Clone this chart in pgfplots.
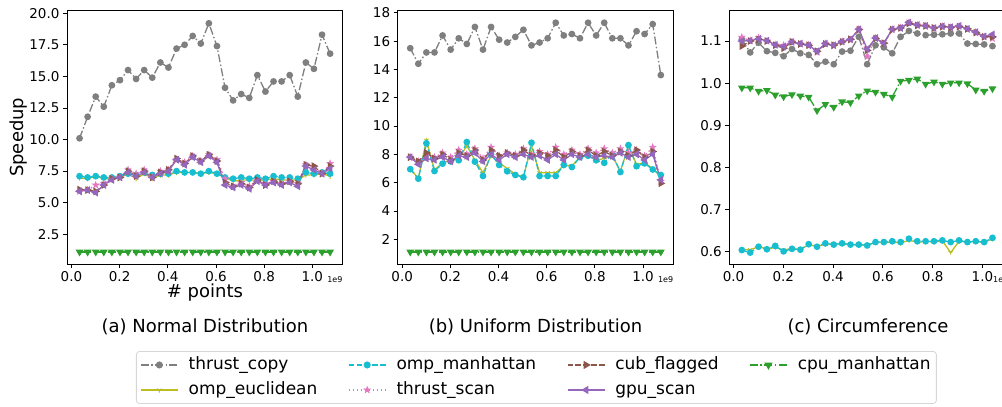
\documentclass[border=0pt]{standalone}
\usepackage{fontspec}
\setmainfont{DejaVu Sans}
\usepackage{pgfplots}
\usepackage{pgfplotstable}
\pgfplotsset{compat=1.18}

\definecolor{tabgray}{HTML}{7F7F7F}
\definecolor{tabolive}{HTML}{BCBD22}
\definecolor{tabcyan}{HTML}{17BECF}
\definecolor{tabpink}{HTML}{E377C2}
\definecolor{tabbrown}{HTML}{8C564B}
\definecolor{tabpurple}{HTML}{9467BD}
\definecolor{tabgreen}{HTML}{2CA02C}
\definecolor{legframe}{HTML}{D6D6D6}

\pgfdeclareplotmark{fstar}{%
  \pgfpathmoveto{\pgfpointpolar{90}{\pgfplotmarksize}}%
  \pgfpathlineto{\pgfpointpolar{126}{0.4\pgfplotmarksize}}%
  \pgfpathlineto{\pgfpointpolar{162}{\pgfplotmarksize}}%
  \pgfpathlineto{\pgfpointpolar{198}{0.4\pgfplotmarksize}}%
  \pgfpathlineto{\pgfpointpolar{234}{\pgfplotmarksize}}%
  \pgfpathlineto{\pgfpointpolar{270}{0.4\pgfplotmarksize}}%
  \pgfpathlineto{\pgfpointpolar{306}{\pgfplotmarksize}}%
  \pgfpathlineto{\pgfpointpolar{342}{0.4\pgfplotmarksize}}%
  \pgfpathlineto{\pgfpointpolar{18}{\pgfplotmarksize}}%
  \pgfpathlineto{\pgfpointpolar{54}{0.4\pgfplotmarksize}}%
  \pgfpathclose
  \pgfusepathqfillstroke}

\pgfplotstableread{
x tc oe om ts cf gs cm
0.033554 10.1 6.95 7.1 5.9 6.05 5.9 1.1
0.067109 11.8 6.9 7.0 6.0 6.0 6.0 1.1
0.100663 13.4 7.1 7.1 6.4 5.9 5.8 1.1
0.134218 12.6 6.9 7.0 6.5 6.4 6.4 1.1
0.167772 14.3 6.9 7.0 6.9 6.9 6.8 1.1
0.201327 14.7 7.0 7.1 7.0 7.0 7.0 1.1
0.234881 15.5 7.3 7.3 7.6 7.5 7.4 1.1
0.268435 14.8 6.9 7.2 7.3 7.1 7.1 1.1
0.301990 15.5 7.3 7.4 7.6 7.5 7.4 1.1
0.335544 14.9 6.9 7.2 7.0 7.0 7.0 1.1
0.369099 16.1 7.2 7.3 7.5 7.4 7.3 1.1
0.402653 15.7 7.2 7.3 7.6 7.6 7.5 1.1
0.436208 17.2 7.4 7.5 8.4 8.5 8.4 1.1
0.469762 17.5 7.4 7.4 8.2 8.1 8.0 1.1
0.503316 18.2 7.4 7.4 8.7 8.7 8.6 1.1
0.536871 17.6 7.3 7.3 8.3 8.3 8.2 1.1
0.570425 19.2 7.4 7.5 8.8 8.8 8.7 1.1
0.603980 17.4 7.3 7.3 8.4 8.3 8.2 1.1
0.637534 14.1 7.0 7.0 6.9 6.6 6.4 1.1
0.671089 13.1 6.7 6.9 6.3 6.3 6.2 1.1
0.704643 13.6 6.8 7.0 6.6 6.5 6.4 1.1
0.738198 13.3 6.8 6.9 6.3 6.2 6.1 1.1
0.771752 15.1 6.8 7.0 6.8 6.8 6.7 1.1
0.805306 13.8 6.8 6.9 6.5 6.4 6.4 1.1
0.838861 14.6 6.9 7.1 6.7 6.7 6.6 1.1
0.872415 14.6 6.8 7.0 6.5 6.5 6.4 1.1
0.905970 15.1 6.8 7.0 6.7 6.7 6.6 1.1
0.939524 13.4 6.8 6.9 6.5 6.5 6.3 1.1
0.973079 16.1 7.2 7.4 8.0 8.0 7.9 1.1
1.006633 15.6 7.2 7.3 7.8 7.9 7.6 1.1
1.040187 18.3 7.3 7.4 7.3 7.3 7.3 1.1
1.073742 16.8 7.1 7.3 8.1 7.9 7.7 1.1
}\tabA

\pgfplotstableread{
x tc oe om ts cf gs cm
0.033554 15.5 7.0 6.95 7.8 7.8 7.8 1.1
0.067109 14.4 6.3 6.28 7.5 7.5 7.3 1.1
0.100663 15.2 9.0 8.78 8.0 8.1 7.7 1.1
0.134218 15.2 6.9 6.82 7.8 7.7 7.6 1.1
0.167772 16.4 7.4 7.34 8.1 8.0 7.8 1.1
0.201327 15.4 7.6 7.5 7.8 7.6 7.5 1.1
0.234881 16.2 7.7 7.58 8.3 8.1 7.9 1.1
0.268435 15.8 8.6 8.87 8.0 7.9 7.8 1.1
0.301990 17.0 7.6 7.48 8.4 8.3 8.1 1.1
0.335544 15.4 6.7 6.47 7.7 7.6 7.5 1.1
0.369099 17.0 7.9 8.0 8.5 8.3 8.0 1.1
0.402653 16.1 7.4 7.25 7.9 7.9 7.6 1.1
0.436208 15.9 7.0 6.8 8.1 8.1 8.0 1.1
0.469762 16.3 6.6 6.54 8.0 7.9 7.8 1.1
0.503316 16.8 6.4 6.38 8.4 8.3 8.0 1.1
0.536871 15.7 8.6 8.82 8.0 7.9 7.8 1.1
0.570425 15.9 6.7 6.47 8.2 8.1 7.9 1.1
0.603980 16.2 6.7 6.47 8.0 7.9 7.6 1.1
0.637534 17.3 6.7 6.47 8.5 8.3 8.0 1.1
0.671089 16.4 7.2 7.25 8.0 7.8 7.6 1.1
0.704643 16.5 7.2 7.1 8.3 8.2 8.0 1.1
0.738198 16.2 7.8 7.8 8.0 7.9 7.8 1.1
0.771752 17.3 7.9 7.9 8.4 8.3 8.0 1.1
0.805306 16.4 7.6 7.58 8.1 7.9 7.8 1.1
0.838861 17.3 7.7 7.4 8.4 8.2 7.9 1.1
0.872415 16.2 7.9 8.0 8.1 7.9 7.8 1.1
0.905970 16.2 6.8 6.75 8.4 8.2 8.1 1.1
0.939524 15.7 8.6 8.65 8.1 7.9 7.8 1.1
0.973079 16.7 7.3 7.16 8.3 8.3 8.0 1.1
1.006633 16.5 7.4 7.36 7.9 7.8 7.6 1.1
1.040187 17.2 7.0 6.93 8.5 8.2 8.0 1.1
1.073742 13.6 6.4 6.54 6.1 5.95 6.2 1.1
}\tabB

\pgfplotstableread{
x tc oe om ts cf gs cm
0.033554 1.104 0.605 0.604 1.109 1.088 1.100 0.989
0.067109 1.073 0.605 0.598 1.101 1.100 1.101 0.989
0.100663 1.096 0.612 0.612 1.108 1.104 1.105 0.981
0.134218 1.076 0.607 0.606 1.100 1.100 1.101 0.983
0.167772 1.072 0.610 0.614 1.091 1.090 1.091 0.972
0.201327 1.064 0.604 0.601 1.090 1.083 1.087 0.968
0.234881 1.081 0.608 0.607 1.098 1.098 1.098 0.973
0.268435 1.071 0.605 0.605 1.093 1.093 1.094 0.970
0.301990 1.067 0.617 0.618 1.091 1.090 1.090 0.967
0.335544 1.045 0.613 0.612 1.073 1.076 1.076 0.935
0.369099 1.051 0.618 0.620 1.094 1.093 1.094 0.950
0.402653 1.045 0.618 0.617 1.089 1.090 1.090 0.943
0.436208 1.075 0.619 0.620 1.099 1.098 1.099 0.956
0.469762 1.077 0.617 0.617 1.103 1.104 1.104 0.954
0.503316 1.110 0.616 0.617 1.128 1.127 1.128 0.970
0.536871 1.045 0.616 0.615 1.063 1.078 1.081 0.982
0.570425 1.090 0.622 0.623 1.107 1.106 1.107 0.979
0.603980 1.085 0.622 0.623 1.094 1.095 1.095 0.974
0.637534 1.071 0.623 0.625 1.128 1.127 1.128 0.967
0.671089 1.110 0.621 0.623 1.132 1.131 1.131 1.005
0.704643 1.124 0.627 0.631 1.144 1.142 1.144 1.007
0.738198 1.118 0.623 0.625 1.138 1.137 1.138 1.010
0.771752 1.114 0.624 0.625 1.136 1.136 1.136 0.998
0.805306 1.115 0.624 0.625 1.130 1.131 1.131 1.003
0.838861 1.116 0.626 0.627 1.135 1.134 1.135 0.998
0.872415 1.118 0.598 0.623 1.132 1.132 1.133 1.001
0.905970 1.118 0.625 0.627 1.135 1.134 1.136 1.001
0.939524 1.094 0.623 0.623 1.128 1.129 1.129 0.999
0.973079 1.093 0.625 0.625 1.121 1.120 1.121 0.984
1.006633 1.092 0.622 0.623 1.110 1.110 1.111 0.981
1.040187 1.088 0.631 0.633 1.106 1.110 1.116 0.987
}\tabC

\pgfplotsset{
  panel/.style={
    scale only axis, width=275.7pt, height=253.3pt, anchor=south west,
    tick pos=left, tick align=outside, major tick length=4pt,
    axis line style={line width=0.8pt},
    every tick/.style={black, line width=0.8pt},
    ticklabel style={font=\fontsize{13.5}{16}\selectfont},
    /pgf/number format/assume math mode=true,
    scaled ticks=false,
    xtick={0,0.2,0.4,0.6,0.8,1.0},
    x tick label style={/pgf/number format/.cd, fixed, fixed zerofill, precision=1, /tikz/.cd},
  },
  stc/.style={color=tabgray, line width=1.3pt, dash pattern=on 8pt off 2.4pt on 1.5pt off 2.4pt, mark=*, mark size=2.7pt, mark options={solid}},
  soe/.style={color=tabolive, line width=1.3pt, solid, mark=Mercedes star flipped, mark size=2.6pt, mark options={solid, line width=0.8pt}},
  som/.style={color=tabcyan, line width=1.3pt, dash pattern=on 5.5pt off 2.4pt, mark=*, mark size=2.7pt, mark options={solid}},
  sts/.style={color=tabpink, line width=1.3pt, dash pattern=on 1.5pt off 2.5pt, mark=fstar, mark size=3.6pt, mark options={solid, line width=0.4pt}},
  scf/.style={color=tabbrown, line width=1.3pt, dash pattern=on 5.5pt off 2.4pt, mark=triangle*, mark size=3.2pt, mark options={solid, rotate=-90}},
  sgs/.style={color=tabpurple, line width=1.3pt, solid, mark=triangle*, mark size=3.2pt, mark options={solid, rotate=90}},
  scm/.style={color=tabgreen, line width=1.3pt, dash pattern=on 8pt off 2.4pt on 1.5pt off 2.4pt, mark=triangle*, mark size=3.2pt, mark options={solid, rotate=180}},
}

\begin{document}
\begin{tikzpicture}
\useasboundingbox (0,0) rectangle (1002pt,407pt);

% (a)
\begin{axis}[panel, at={(67pt,143pt)},
  xmin=-0.0185, xmax=1.126, ymin=0.15, ymax=20.2,
  ytick={2.5,5,7.5,10,12.5,15,17.5,20},
  y tick label style={/pgf/number format/.cd, fixed, fixed zerofill, precision=1, /tikz/.cd}]
\addplot[stc] table[x=x,y=tc]{\tabA};
\addplot[soe] table[x=x,y=oe]{\tabA};
\addplot[som] table[x=x,y=om]{\tabA};
\addplot[sts] table[x=x,y=ts]{\tabA};
\addplot[scf] table[x=x,y=cf]{\tabA};
\addplot[sgs] table[x=x,y=gs]{\tabA};
\addplot[scm] table[x=x,y=cm]{\tabA};
\end{axis}

% (b)
\begin{axis}[panel, at={(397.7pt,143pt)},
  xmin=-0.0185, xmax=1.126, ymin=0.25, ymax=18.15,
  ytick={2,4,6,8,10,12,14,16,18},
  legend columns=4, legend cell align=left,
  legend image code/.code={\draw[mark repeat=2, mark phase=2, #1, line width=1.6pt] plot coordinates {(0pt,0pt) (18.5pt,0pt) (37pt,0pt)};},
  legend style={name=leg, at={(axis description cs:0.503,-0.3455)}, anchor=north,
    draw=none, fill=white, inner xsep=3.5pt, inner ysep=3pt,
    font=\fontsize{17}{20}\selectfont,
    nodes={inner sep=2pt, text height=12.5pt, text depth=4pt},
    row sep=4.5pt,
    /tikz/every odd column/.append style={column sep=8pt},
    /tikz/every even column/.append style={column sep=28.5pt}}]
\addlegendimage{stc}\addlegendentry{thrust\_copy}
\addlegendimage{som}\addlegendentry{omp\_manhattan}
\addlegendimage{scf}\addlegendentry{cub\_flagged}
\addlegendimage{scm}\addlegendentry{cpu\_manhattan}
\addlegendimage{soe}\addlegendentry{omp\_euclidean}
\addlegendimage{sts}\addlegendentry{thrust\_scan}
\addlegendimage{sgs}\addlegendentry{gpu\_scan}
\addplot[stc, forget plot] table[x=x,y=tc]{\tabB};
\addplot[soe, forget plot] table[x=x,y=oe]{\tabB};
\addplot[som, forget plot] table[x=x,y=om]{\tabB};
\addplot[sts, forget plot] table[x=x,y=ts]{\tabB};
\addplot[scf, forget plot] table[x=x,y=cf]{\tabB};
\addplot[sgs, forget plot] table[x=x,y=gs]{\tabB};
\addplot[scm, forget plot] table[x=x,y=cm]{\tabB};
\end{axis}
\draw[legframe, line width=0.8pt, rounded corners=3pt] (leg.south west) rectangle (leg.north east);

% (c)
\begin{axis}[panel, at={(729.3pt,143pt)},
  xmin=-0.0168, xmax=1.0905, ymin=0.571, ymax=1.172,
  ytick={0.6,0.7,0.8,0.9,1.0,1.1},
  y tick label style={/pgf/number format/.cd, fixed, fixed zerofill, precision=1, /tikz/.cd}]
\addplot[stc] table[x=x,y=tc]{\tabC};
\addplot[soe] table[x=x,y=oe]{\tabC};
\addplot[som] table[x=x,y=om]{\tabC};
\addplot[sts] table[x=x,y=ts]{\tabC};
\addplot[scf] table[x=x,y=cf]{\tabC};
\addplot[sgs] table[x=x,y=gs]{\tabC};
\addplot[scm] table[x=x,y=cm]{\tabC};
\end{axis}

\node[font=\fontsize{18}{21}\selectfont, rotate=90] at (19pt,269.7pt) {Speedup};
\node[font=\fontsize{18}{21}\selectfont] at (204.9pt,114pt) {\# points};
\node[font=\fontsize{18}{21}\selectfont] at (204.9pt,80pt) {(a) Normal Distribution};
\node[font=\fontsize{18}{21}\selectfont] at (535.5pt,80pt) {(b) Uniform Distribution};
\node[font=\fontsize{18}{21}\selectfont] at (868pt,80pt) {(c) Circumference};
\node[font=\fontsize{8}{9}\selectfont, anchor=base east, inner sep=0pt] at (342.7pt,124pt) {1e9};
\node[font=\fontsize{8}{9}\selectfont, anchor=base east, inner sep=0pt] at (673.4pt,124pt) {1e9};
\node[font=\fontsize{8}{9}\selectfont, anchor=base west, inner sep=0pt] at (993pt,124pt) {1e9};
\end{tikzpicture}
\end{document}
